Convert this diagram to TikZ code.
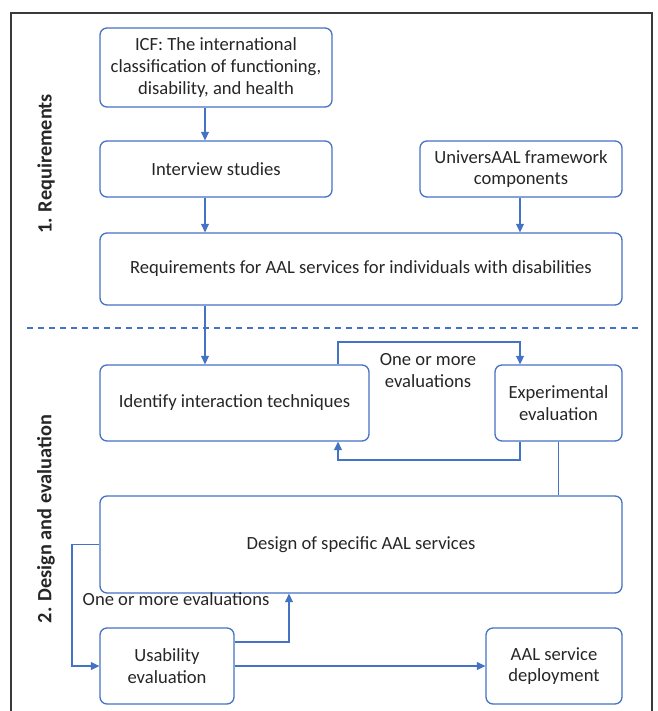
\documentclass[tikz,border=0pt]{standalone}
\usepackage{fontspec}
\setmainfont{Carlito}
\usetikzlibrary{arrows.meta,calc}
\definecolor{bl}{HTML}{4472C4}
\definecolor{tx}{HTML}{262626}
\definecolor{fr}{HTML}{3A3A3A}
\begin{document}
\begin{tikzpicture}[x=1pt,y=-1pt,
  box/.style={draw=bl, line width=1.3pt, rounded corners=7pt, align=center, inner sep=2pt, text=tx, font=\fontsize{18.6}{21.8}\selectfont},
  conn/.style={draw=bl, line width=1.2pt},
  arr/.style={conn, -{Triangle[length=8.5pt,width=8pt]}},
  lbl/.style={text=tx, align=center, inner sep=0pt, font=\fontsize{18.6}{22}\selectfont},
  side/.style={rotate=90, text=tx, inner sep=0pt, font=\bfseries\fontsize{20.3}{24}\selectfont}]
\useasboundingbox (0,0) rectangle (657,711);
% frame
\coordinate (f1) at (11,711);
\coordinate (f2) at (11,13);
\coordinate (f3) at (652,13);
\coordinate (f4) at (652,711);
\draw[fr, line width=1.4pt] (f1) -- (f2) -- (f3) -- (f4);
% dashed separator
\coordinate (dl) at (27,328);
\coordinate (dr) at (640,328);
\draw[bl, line width=2pt, dash pattern=on 6pt off 5pt] (dl) -- (dr);
% side labels
\node[side] (s1) at (46,164) {1. Requirements};
\node[side] (s2) at (46,519) {2. Design and evaluation};
% boxes
\node[box, minimum width=232pt, minimum height=79pt] (icf) at (216,67.5) {ICF: The international\\classification of functioning,\\disability, and health};
\node[box, minimum width=232pt, minimum height=56pt] (interview) at (216,169) {Interview studies};
\node[box, minimum width=202pt, minimum height=56pt] (univ) at (521,169) {UniversAAL framework\\components};
\node[box, minimum width=522pt, minimum height=72pt] (req) at (361,269) {Requirements for AAL services for individuals with disabilities};
\node[box, minimum width=269pt, minimum height=76pt] (ident) at (234.5,403) {Identify interaction techniques};
\node[box, minimum width=127pt, minimum height=76pt] (exper) at (558.5,403) {Experimental\\evaluation};
\node[box, minimum width=522pt, minimum height=97pt] (design) at (361,544.5) {Design of specific AAL services};
\node[box, minimum width=134pt, minimum height=76pt] (usab) at (167,666) {Usability\\evaluation};
\node[box, minimum width=136pt, minimum height=76pt] (deploy) at (554,666) {AAL service\\deployment};
% labels
\node[lbl] (l1) at (428,371) {One or more\\evaluations};
\node[lbl] (l2) at (176,599) {One or more evaluations};
% helper coordinates
\coordinate (xf) at (205,0);
\coordinate (xa) at (338,342);
\coordinate (xb) at (520,342);
\coordinate (xc) at (338,460);
\coordinate (xd) at (72,600);
\coordinate (xe) at (289,642);
% connectors
\draw[arr] (icf.south -| xf) -- (interview.north -| xf);
\draw[arr] (interview.south -| xf) -- (req.north -| xf);
\draw[arr] (univ.south -| xb) -- (req.north -| xb);
\draw[arr] (req.south -| xf) -- (ident.north -| xf);
\draw[arr] (ident.north -| xa) -- (xa) -- (xb) -- (exper.north -| xb);
\draw[arr] (exper.south -| xb) -- (xb |- xc) -- (xc) -- (ident.south -| xc);
\draw[conn] (exper.south) -- (design.north -| exper.south);
\draw[arr] (design.west) -- (design.west -| xd) -- (usab.west -| xd) -- (usab.west);
\draw[arr] (usab.east |- xe) -- (xe) -- (design.south -| xe);
\draw[arr] (usab.east) -- (deploy.west);
\end{tikzpicture}
\end{document}
